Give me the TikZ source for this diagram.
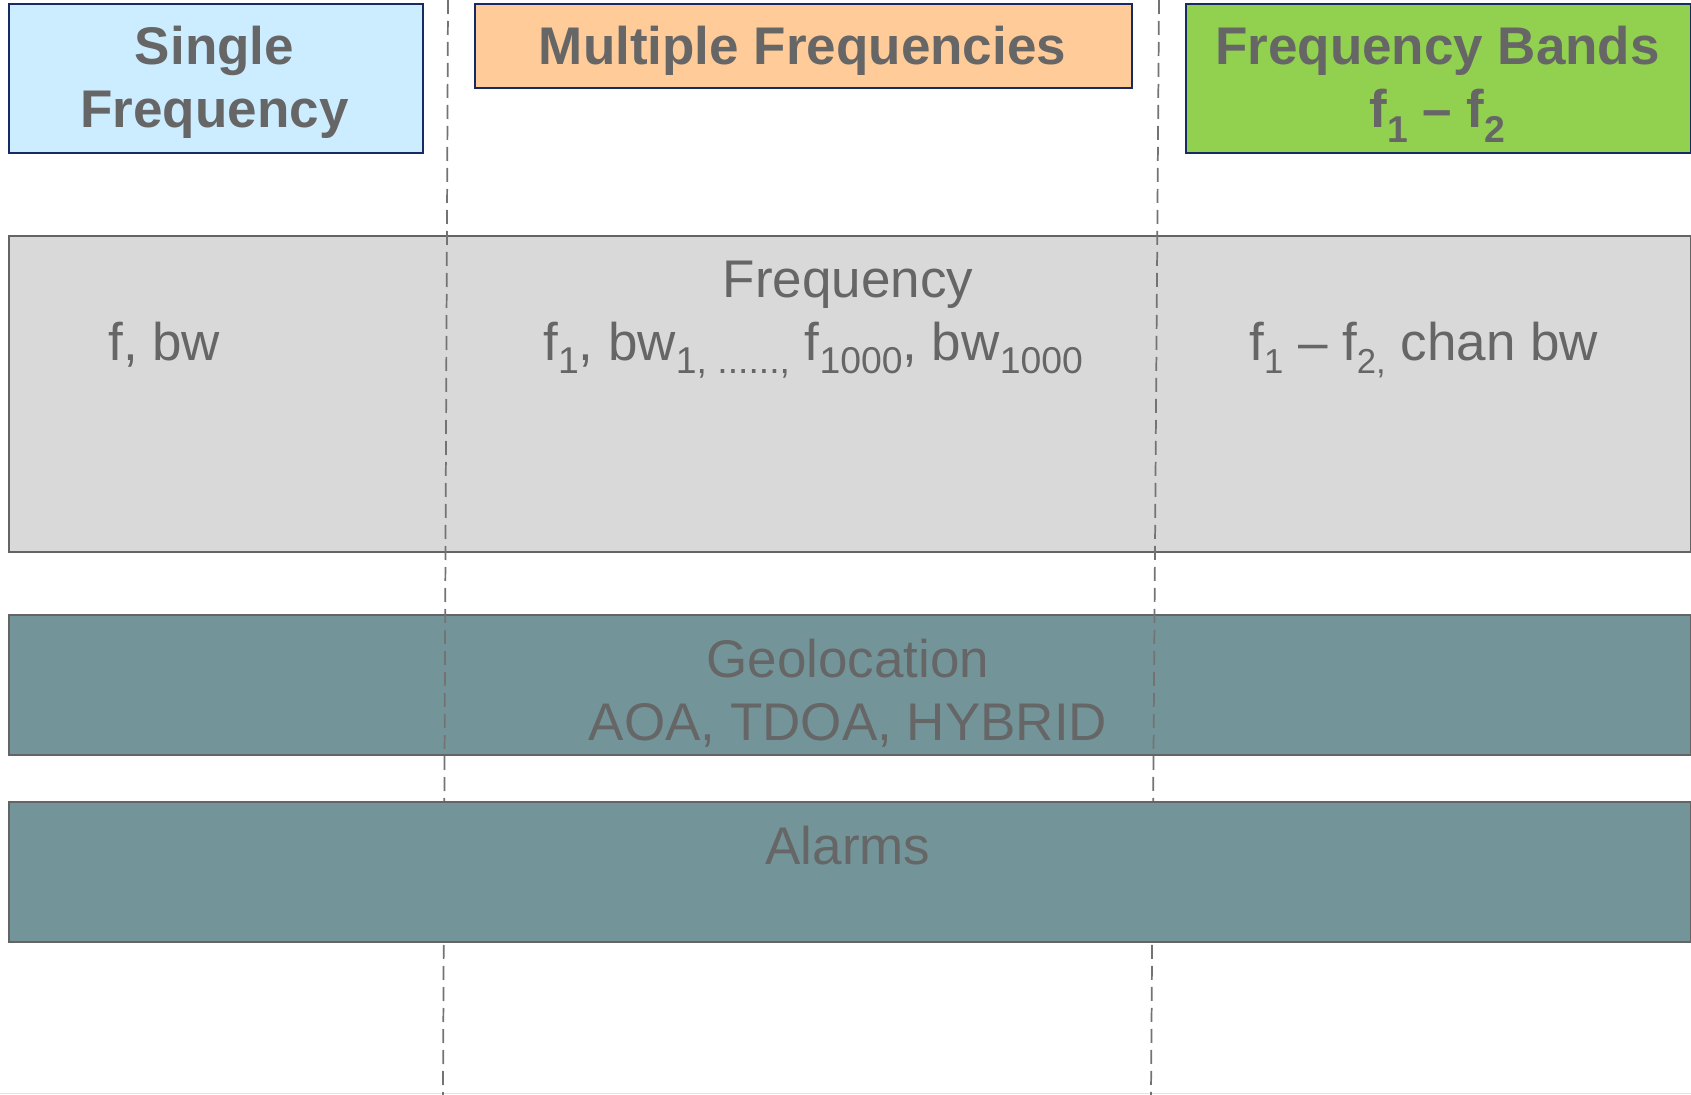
\documentclass[tikz,border=0pt]{standalone}
\usepackage{fontspec}
\setmainfont{Liberation Sans}
\definecolor{txt}{RGB}{102,102,102}
\definecolor{sfblue}{RGB}{204,236,255}
\definecolor{mforange}{RGB}{255,204,153}
\definecolor{fbgreen}{RGB}{146,208,80}
\definecolor{navy}{RGB}{22,42,100}
\definecolor{boxgray}{RGB}{217,217,217}
\definecolor{edgegray}{RGB}{100,100,100}
\definecolor{teal}{RGB}{115,149,153}
\definecolor{dashgray}{RGB}{115,115,115}
\newcommand{\lsub}[1]{\raisebox{-0.25em}{\fontsize{26}{26}\selectfont #1}}
\newcommand{\msub}[1]{\raisebox{-0.25em}{\fontsize{28}{28}\selectfont #1}}
\newcommand{\bsub}[1]{\raisebox{-0.27em}{\fontsize{28}{28}\selectfont #1}}
\begin{document}
\begin{tikzpicture}[x=0.75pt,y=-0.75pt,
  hdrbox/.style={draw=navy, line width=1.5pt, anchor=north west, inner sep=0pt},
  bandbox/.style={draw=edgegray, line width=1.5pt, anchor=north west, inner sep=0pt, minimum width=1261.9pt},
  divider/.style={draw=dashgray, line width=1.3pt, dash pattern=on 10.5pt off 5.25pt},
  lbl/.style={text=txt, inner sep=0pt, font=\fontsize{39.75}{47.25}\selectfont},
  hlbl/.style={lbl, font=\fontsize{39.75}{47.25}\selectfont\bfseries, anchor=base}
]
\useasboundingbox (0,0) rectangle (1691,1095);
\fill[white] (0,0) rectangle (1691,1095);
\draw[boxgray!70, line width=1pt] (0,1093.5) -- (1691,1093.5);

% header boxes
\node[hdrbox, fill=sfblue, minimum width=310.5pt, minimum height=111.4pt] (sf) at (7.5,3) {};
\node[hdrbox, fill=mforange, minimum width=492.75pt, minimum height=63pt] (mf) at (474,3) {};
\node[hdrbox, fill=fbgreen, minimum width=378.75pt, minimum height=111.4pt] (fb) at (1185,3) {};

% bands
\node[bandbox, fill=boxgray, minimum height=237pt] (freq) at (7.5,235) {};
\node[bandbox, fill=teal, minimum height=105pt] (geo) at (7.5,614) {};

% dividers
\coordinate (d1t) at (448,0);
\coordinate (d1b) at (443,1095);
\coordinate (d2t) at (1159,0);
\coordinate (d2b) at (1151,1095);
\draw[divider] (d1t) -- (d1b);
\draw[divider] (d2t) -- (d2b);

\node[bandbox, fill=teal, minimum height=105pt] (alarm) at (7.5,801) {};

% header texts
\node[hlbl] (sf1) at (214.5,65) {Single};
\node[hlbl] (sf2) at (214.5,128) {Frequency};
\node[hlbl] (mf1) at (802.5,65) {Multiple Frequencies};
\node[hlbl] (fb1) at (1437.5,65) {Frequency Bands};
\node[hlbl] (fb2) at (1437.5,128) {f\bsub{1} – f\bsub{2}};

% frequency band texts
\node[lbl, anchor=base] (ft) at (848,297) {Frequency};
\node[lbl, anchor=base west] (fa) at (108,360) {f, bw};
\node[lbl, anchor=base west] (fm) at (543,360) {f\msub{1}, bw\msub{1, ......,} f\msub{1000}, bw\msub{1000}};
\node[lbl, anchor=base west] (fbnd) at (1249,360) {f\lsub{1} – f\lsub{2,} chan bw};

% geolocation and alarms
\node[lbl, anchor=base] (g1) at (848,677) {Geolocation};
\node[lbl, anchor=base] (g2) at (848,740) {AOA, TDOA, HYBRID};
\node[lbl, anchor=base] (al) at (848,864) {Alarms};
\end{tikzpicture}
\end{document}
